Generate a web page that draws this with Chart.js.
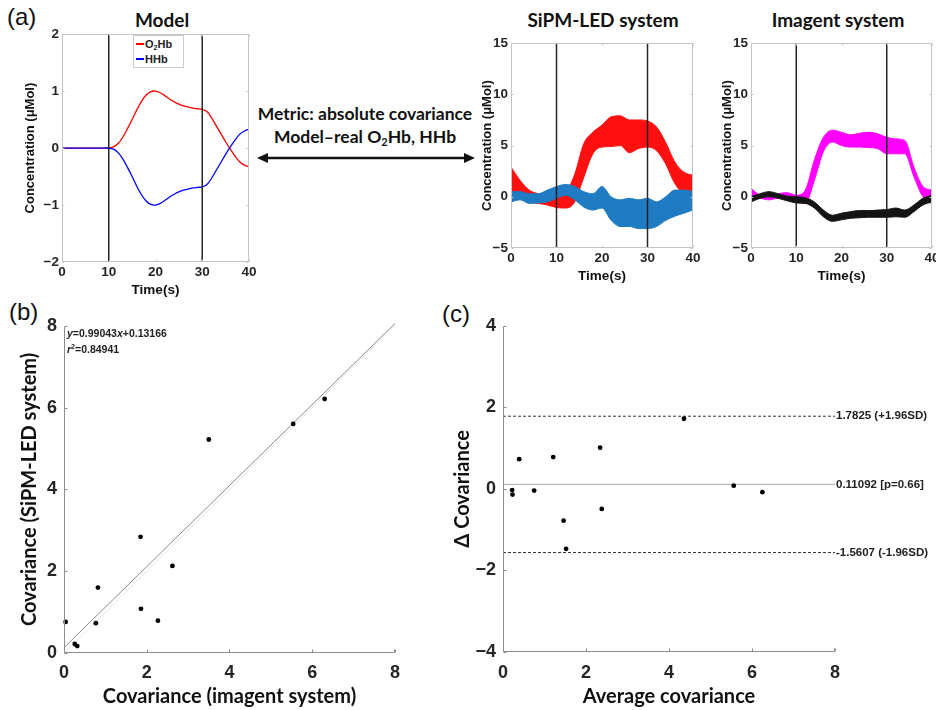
<!DOCTYPE html>
<html>
<head>
<meta charset="utf-8">
<script src="https://cdn.jsdelivr.net/npm/chart.js@4.4.1/dist/chart.umd.min.js"></script>
<style>
  html, body { margin: 0; padding: 0; background: #fff; }
  body { width: 936px; height: 710px; overflow: hidden; position: relative; font-family: 'Liberation Sans', Arial, sans-serif; }
  canvas { position: absolute; display: block; }
  .tag { position: absolute; font-family: 'Liberation Sans', Arial, sans-serif; font-size: 24px; color: #111; }
  .ttl { position: absolute; font-family: Lato, sans-serif; font-weight: bold; font-size: 19px; color: #111; transform: translateX(-50%); white-space: nowrap; }
  .mid { position: absolute; left: 365px; font-family: Lato, sans-serif; font-weight: bold; font-size: 17.5px; color: #111; transform: translateX(-50%); white-space: nowrap; }
  .mid sub { font-size: 11px; vertical-align: -3px; line-height: 0; }
  .legend { position: absolute; left: 133px; top: 35px; width: 49px; height: 31px; border: 1px solid #ccc; background: #fff;
            font: bold 11px 'Liberation Sans', Arial, sans-serif; color: #222; }
  .legend div { position: absolute; left: 2px; white-space: nowrap; }
  .legend span.ln { display: inline-block; width: 8px; height: 2px; vertical-align: 3px; margin-right: 1px; }
  .legend sub { font-size: 7px; vertical-align: -2px; line-height: 0; }
  .fit { position: absolute; left: 67px; top: 325px; font: bold 10.5px 'Liberation Sans', Arial, sans-serif; color: #222; line-height: 16px; }
  .fit sup { font-size: 7px; vertical-align: 4px; line-height: 0; }
</style>
</head>
<body>

<div class="tag" style="left:7px;top:3px">(a)</div>
<div class="tag" style="left:9px;top:298px">(b)</div>
<div class="tag" style="left:442px;top:300px">(c)</div>

<div class="ttl" style="left:162px;top:8px">Model</div>
<div class="ttl" style="left:603px;top:8px">SiPM-LED system</div>
<div class="ttl" style="left:838px;top:8px">Imagent system</div>

<div class="mid" style="top:103px">Metric: absolute covariance</div>
<div class="mid" style="top:126px">Model&#8211;real O<sub>2</sub>Hb, HHb</div>
<svg style="position:absolute;left:255px;top:150px" width="222" height="16">
  <line x1="10" y1="8" x2="212" y2="8" stroke="#111" stroke-width="2.5"/>
  <polygon points="2,8 13,3 13,13" fill="#111"/>
  <polygon points="220,8 209,3 209,13" fill="#111"/>
</svg>

<canvas id="model" width="239" height="279" style="left:20px;top:23px"></canvas>
<canvas id="sipm" width="226" height="256" style="left:477px;top:32px"></canvas>
<canvas id="imagent" width="225" height="256" style="left:717px;top:32px"></canvas>
<canvas id="scatter" width="399" height="402" style="left:10px;top:308px"></canvas>
<canvas id="bland" width="496" height="402" style="left:440px;top:308px"></canvas>

<div class="legend">
  <div style="top:2px"><span class="ln" style="background:#ff0000"></span>O<sub>2</sub>Hb</div>
  <div style="top:17px"><span class="ln" style="background:#0000ff"></span>HHb</div>
</div>

<div class="fit"><i>y</i>=0.99043<i>x</i>+0.13166<br><i>r</i><sup>2</sup>=0.84941</div>

<script>
// ---- data ----
const stimOn = [10, 30];

// model response (1 s steps)
const modelTime = [0,1,2,3,4,5,6,7,8,9,10,11,12,13,14,15,16,17,18,19,20,21,22,23,24,25,26,27,28,29,30,31,32,33,34,35,36,37,38,39,40];
const modelO2Hb = [0,0,0,0,0,0,0,0,0,0,0,0.02,0.08,0.19,0.34,0.5,0.67,0.82,0.93,0.99,1.0,0.97,0.92,0.86,0.81,0.77,0.74,0.72,0.70,0.69,0.68,0.64,0.53,0.39,0.25,0.11,-0.02,-0.14,-0.24,-0.30,-0.33];
const modelHHb  = [0,0,0,0,0,0,0,0,0,0,0,-0.02,-0.08,-0.19,-0.34,-0.5,-0.67,-0.82,-0.93,-0.99,-1.0,-0.97,-0.92,-0.86,-0.81,-0.77,-0.74,-0.72,-0.70,-0.69,-0.68,-0.64,-0.53,-0.39,-0.25,-0.11,0.02,0.14,0.24,0.30,0.33];

// measured bands (2 s steps), upper / lower edges
const bandTime = [0,2,4,6,8,10,12,14,16,18,20,22,24,26,28,30,32,34,36,38,40];
const sipmO2Upper  = [2.9,1.6,0.65,0.3,0.2,0.3,0.5,2.2,5.2,6.3,7.0,7.8,7.9,7.5,7.5,7.4,6.8,5.3,3.4,2.4,2.1];
const sipmO2Lower  = [0.65,-0.15,-0.5,-0.65,-0.8,-1.05,-1.1,-0.5,1.9,4.2,4.85,4.9,5.0,4.3,4.7,4.85,4.5,3.2,1.3,0.3,0.15];
const sipmHHbUpper = [0.5,0.5,0.3,0.3,0.65,1.0,1.2,1.0,0.5,0.3,1.0,0,-0.3,-0.15,-0.3,-0.15,-0.5,0,0.65,0.65,0.5];
const sipmHHbLower = [-0.5,-0.3,-0.65,-0.6,-0.5,-0.15,0.15,-0.3,-1.0,-1.3,-1.1,-2.3,-2.9,-2.9,-3.1,-3.1,-2.9,-2.3,-1.9,-1.6,-1.3];
const imgO2Upper   = [0.8,0.15,0,0.3,0.4,0.15,0.65,3.6,5.8,6.5,6.3,6.05,6.2,6.3,6.15,5.8,5.65,5.5,2.9,1.0,0.65];
const imgO2Lower   = [0,-0.15,-0.3,-0.15,-0.3,-0.5,-0.65,1.6,4.4,5.35,5.0,4.85,4.85,4.8,4.7,4.2,4.2,4.2,1.95,0,-0.5];
const imgHHbUpper  = [0,0.3,0.5,0.3,0.05,0,-0.1,-0.5,-1.3,-1.8,-1.6,-1.45,-1.35,-1.35,-1.3,-1.25,-1.1,-1.3,-0.8,-0.15,0.15];
const imgHHbLower  = [-0.5,-0.15,0,-0.15,-0.4,-0.6,-0.65,-1.1,-1.95,-2.4,-2.25,-2.1,-2.05,-2.0,-2.0,-2.0,-1.95,-2.0,-1.45,-0.8,-0.5];

// (b) covariance per subject
const covImagent = [0.04,0.26,0.32,0.77,0.82,1.85,1.86,2.27,2.62,3.5,5.54,6.3];
const covSipm    = [0.76,0.22,0.17,0.73,1.6,2.84,1.08,0.79,2.13,5.22,5.6,6.21];
const fitSlope = 0.99043, fitIntercept = 0.13166;

// (c) Bland-Altman
const avgCov  = [0.22,0.23,0.39,0.75,1.21,1.46,1.52,2.34,2.38,4.36,5.56,6.25];
const diffCov = [-0.03,-0.14,0.73,-0.04,0.78,-0.78,-1.47,1.01,-0.49,1.72,0.08,-0.08];
const meanDiff = 0.11092, upperLoA = 1.7825, lowerLoA = -1.5607;
const baLabels = ['1.7825 (+1.96SD)', '0.11092 [p=0.66]', '-1.5607 (-1.96SD)'];

// ---- helpers ----
const TICK_FONT = "'Liberation Sans', Arial, sans-serif";
const TITLE_FONT = 'Lato, sans-serif';
const minus = v => String(v).replace('-', '\u2212');
const pts = (xs, ys) => xs.map((x, i) => ({ x: x, y: ys[i] }));
const fixW = w => s => { s.width = w; };
const fixH = h => s => { s.height = h; };

// axis frame + inward tick marks (MATLAB style)
const framePlugin = {
  id: 'frame',
  afterDatasetsDraw(chart, args, opts) {
    const { ctx, chartArea: a, scales } = chart;
    const L = opts.tick || 3;
    ctx.save();
    ctx.strokeStyle = opts.color || '#999';
    ctx.lineWidth = 1;
    ctx.beginPath();
    const l = Math.round(a.left) + 0.5, r = Math.round(a.right) - 0.5;
    const t = Math.round(a.top) + 0.5, b = Math.round(a.bottom) - 0.5;
    if (opts.box) {
      ctx.rect(l, t, r - l, b - t);
    } else {
      ctx.moveTo(l, t); ctx.lineTo(l, b); ctx.lineTo(r, b); ctx.lineTo(r, b - L);
    }
    scales.x.ticks.forEach(tk => {
      const px = Math.round(scales.x.getPixelForValue(tk.value)) + 0.5;
      ctx.moveTo(px, b); ctx.lineTo(px, b - L);
      if (opts.box) { ctx.moveTo(px, t); ctx.lineTo(px, t + L); }
    });
    scales.y.ticks.forEach(tk => {
      const py = Math.round(scales.y.getPixelForValue(tk.value)) + 0.5;
      ctx.moveTo(l, py); ctx.lineTo(l + L, py);
      if (opts.box) { ctx.moveTo(r, py); ctx.lineTo(r - L, py); }
    });
    ctx.stroke();
    ctx.restore();
  }
};

// text labels right of the Bland-Altman lines
const sideLabels = {
  id: 'sideLabels',
  afterDraw(chart, args, opts) {
    if (!opts.items) return;
    const { ctx, chartArea: a, scales } = chart;
    ctx.save();
    ctx.font = 'bold 11.5px ' + TICK_FONT;
    ctx.fillStyle = '#222';
    ctx.textBaseline = 'middle';
    opts.items.forEach(it => {
      ctx.fillText(it.text, a.right + 1, scales.y.getPixelForValue(it.value));
    });
    ctx.restore();
  }
};

Chart.register(framePlugin, sideLabels);

function axes(o) {
  return {
    x: {
      type: 'linear', min: o.xr[0], max: o.xr[1],
      afterFit: fixH(o.xh),
      grid: { display: false, drawTicks: false }, border: { display: false },
      ticks: { stepSize: o.xs, padding: o.xpad, color: '#262626', font: { family: TICK_FONT, size: o.tf, weight: 'bold' }, callback: minus },
      title: { display: true, text: o.xt, color: '#111', padding: { top: 0, bottom: o.xtp }, font: { family: o.titleFamily, size: o.ttf, weight: 'bold' } }
    },
    y: {
      type: 'linear', min: o.yr[0], max: o.yr[1],
      afterFit: fixW(o.yw),
      grid: { display: false, drawTicks: false }, border: { display: false },
      ticks: { stepSize: o.ys, padding: o.ypad, color: '#262626', font: { family: TICK_FONT, size: o.tf, weight: 'bold' }, callback: minus },
      title: { display: true, text: o.yt, color: '#111', padding: { top: o.ytp, bottom: 0 }, font: { family: o.titleFamily, size: o.ytf || o.ttf, weight: 'bold' } }
    }
  };
}

function baseOptions(scales, pad, frame, extra) {
  return Object.assign({
    responsive: false, animation: false, devicePixelRatio: 1,
    layout: { padding: pad },
    scales: scales,
    plugins: { legend: { display: false }, tooltip: { enabled: false }, frame: frame, sideLabels: {} }
  }, extra || {});
}

function stimLines(yr) {
  return stimOn.map(t => ({
    data: [{ x: t, y: yr[0] }, { x: t, y: yr[1] }],
    borderColor: 'rgba(25,25,25,0.95)', borderWidth: 1.5, pointRadius: 0, fill: false, order: 0
  }));
}

function band(upper, lower, color, order) {
  return [
    { data: pts(bandTime, upper), borderColor: color, borderWidth: 1, pointRadius: 0, fill: false, cubicInterpolationMode: 'monotone', order: order },
    { data: pts(bandTime, lower), borderColor: color, borderWidth: 1, pointRadius: 0, fill: '-1', backgroundColor: color, cubicInterpolationMode: 'monotone', order: order }
  ];
}

const topAxes = yr => axes({
  xr: [0, 40], xs: 10, yr: yr, ys: yr[1] > 5 ? 5 : 1, xh: 40, yw: yr[1] > 5 ? 34 : 42, xpad: 2, ypad: 3, tf: 13.5, ttf: 13.5, ytf: 13,
  xt: 'Time(s)', yt: 'Concentration (\u03bcMol)', xtp: 4, ytp: 2.2, titleFamily: TICK_FONT
});

// ---- (a) model ----
const modelRange = [-2, 2];
new Chart(document.getElementById('model'), {
  type: 'line',
  data: {
    datasets: [
      { data: pts(modelTime, modelO2Hb), borderColor: '#ff0000', borderWidth: 1.3, pointRadius: 0, tension: 0.3, fill: false, order: 2 },
      { data: pts(modelTime, modelHHb), borderColor: '#0000ff', borderWidth: 1.3, pointRadius: 0, tension: 0.3, fill: false, order: 1 }
    ].concat(stimLines(modelRange))
  },
  options: baseOptions(topAxes(modelRange), { top: 10, right: 10, left: 0, bottom: 0 }, { box: true, color: '#c4c4c4', tick: 2 })
});

// ---- SiPM-LED and Imagent ----
const concRange = [-5, 15];

new Chart(document.getElementById('sipm'), {
  type: 'line',
  data: {
    datasets: band(sipmO2Upper, sipmO2Lower, '#ff1010', 3)
      .concat(band(sipmHHbUpper, sipmHHbLower, '#1f7bc2', 2))
      .concat(stimLines(concRange))
  },
  options: baseOptions(topAxes(concRange), { top: 10, right: 10, left: 0, bottom: 0 }, { box: true, color: '#c4c4c4', tick: 2 })
});

new Chart(document.getElementById('imagent'), {
  type: 'line',
  data: {
    datasets: band(imgO2Upper, imgO2Lower, '#ff00ff', 3)
      .concat(band(imgHHbUpper, imgHHbLower, '#141414', 2))
      .concat(stimLines(concRange))
  },
  options: baseOptions(topAxes(concRange), { top: 10, right: 10, left: 0, bottom: 0 }, { box: true, color: '#c4c4c4', tick: 2 })
});

// ---- (b) scatter with regression ----
const covRange = [0, 8];
new Chart(document.getElementById('scatter'), {
  type: 'line',
  data: {
    datasets: [
      { data: pts(covImagent, covSipm), showLine: false, pointRadius: 2.4, pointBackgroundColor: '#000', pointBorderWidth: 0, order: 0 },
      { data: covRange.map(x => ({ x: x, y: fitSlope * x + fitIntercept })), borderColor: '#8a8a8a', borderWidth: 1, pointRadius: 0, fill: false, order: 1 },
      { data: covRange.map(x => ({ x: x, y: x })), borderColor: '#e6e6e6', borderWidth: 1, pointRadius: 0, fill: false, order: 2 }
    ]
  },
  options: baseOptions(axes({
    xr: covRange, xs: 2, yr: covRange, ys: 2, xh: 57, yw: 54, xpad: 9, ypad: 7, tf: 18, ttf: 20,
    xt: 'Covariance (imagent system)', yt: 'Covariance (SiPM-LED system)', xtp: 1, ytp: 8, titleFamily: TITLE_FONT
  }), { top: 12, right: 12, left: 0, bottom: 0 }, { box: false, color: '#8c8c8c', tick: 3 }, { clip: false })
});

// ---- (c) Bland-Altman ----
const diffRange = [-4, 4];
const hline = (v, dash, color) => ({
  data: covRange.map(x => ({ x: x, y: v })), borderColor: color, borderWidth: 1, borderDash: dash, pointRadius: 0, fill: false, order: 1
});
const baOpts = baseOptions(axes({
  xr: covRange, xs: 2, yr: diffRange, ys: 2, xh: 58, yw: 63, xpad: 10, ypad: 7, tf: 18, ttf: 20,
  xt: 'Average covariance', yt: '\u0394 Covariance', xtp: 1, ytp: 11, titleFamily: TITLE_FONT
}), { top: 12, right: 101, left: 0, bottom: 0 }, { box: false, color: '#8c8c8c', tick: 3 });
baOpts.plugins.sideLabels = { items: [
  { text: baLabels[0], value: upperLoA },
  { text: baLabels[1], value: meanDiff },
  { text: baLabels[2], value: lowerLoA }
] };
new Chart(document.getElementById('bland'), {
  type: 'line',
  data: {
    datasets: [
      { data: pts(avgCov, diffCov), showLine: false, pointRadius: 2.4, pointBackgroundColor: '#000', pointBorderWidth: 0, order: 0 },
      hline(upperLoA, [3, 2], '#333'),
      hline(meanDiff, [], '#a8a8a8'),
      hline(lowerLoA, [3, 2], '#333')
    ]
  },
  options: baOpts
});
</script>
</body>
</html>
